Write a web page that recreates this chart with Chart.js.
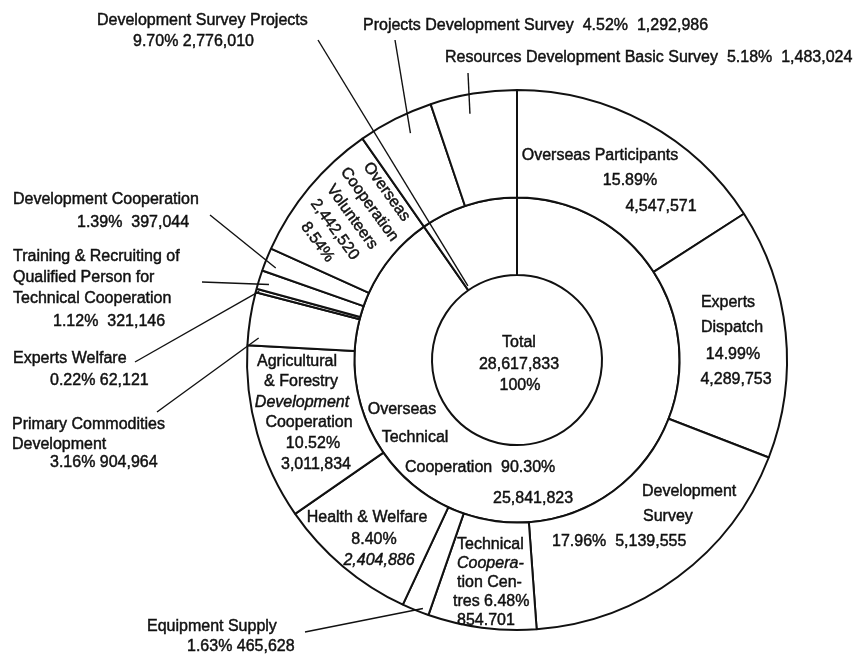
<!DOCTYPE html>
<html lang="en">
<head>
<meta charset="UTF-8">
<title>Overseas Technical Cooperation - breakdown</title>
<script src="https://cdn.jsdelivr.net/npm/chart.js@4"></script>
<style>
  html, body { margin: 0; padding: 0; background: #fff; }
  canvas { display: block; }
</style>
</head>
<body>
<canvas id="chart" width="868" height="655"></canvas>
<script>
// outer ring, clockwise from 12 o'clock
const outerLabels = [
  'Overseas Participants', 'Experts Dispatch', 'Development Survey',
  'Technical Cooperation Centres', 'Equipment Supply', 'Health & Welfare',
  'Agricultural & Forestry Development Cooperation', 'Primary Commodities Development',
  'Experts Welfare', 'Training & Recruiting of Qualified Person for Technical Cooperation',
  'Development Cooperation', 'Overseas Cooperation Volunteers',
  'Projects Development Survey', 'Resources Development Basic Survey'
];
const outerValues = [4547571, 4289753, 5139555, 1854701, 465528, 2404886, 3011834,
  904964, 62121, 321146, 397044, 2442520, 1292986, 1483024];
// inner ring
const innerLabels = ['Overseas Technical Cooperation', 'Development Survey Projects'];
const innerValues = [25841823, 2776010];
const totalValue = 28617833;

const FONT = '"Liberation Sans", Arial, sans-serif';

// text placed on the picture: [text, x, y, align, italic]
const texts = [
  ['Total', 519, 343, 'center'],
  ['28,617,833', 519, 365, 'center'],
  ['100%', 520, 386, 'center'],

  ['Overseas', 402, 410, 'center'],
  ['Technical', 415, 438, 'center'],
  ['Cooperation  90.30%', 405, 468, 'left'],
  ['25,841,823', 493, 499, 'left'],

  ['Overseas Participants', 600, 156, 'center'],
  ['15.89%', 630, 181, 'center'],
  ['4,547,571', 661, 207, 'center'],

  ['Experts', 728, 303, 'center'],
  ['Dispatch', 732, 328, 'center'],
  ['14.99%', 733, 355, 'center'],
  ['4,289,753', 736, 380, 'center'],

  ['Development', 642, 492, 'left'],
  ['Survey', 643, 517, 'left'],
  ['17.96%  5,139,555', 552, 542, 'left'],

  ['Technical', 457, 545, 'left'],
  ['Coopera-', 457, 564, 'left', true],
  ['tion Cen-', 457, 583, 'left'],
  ['tres 6.48%', 453, 602, 'left'],
  ['854.701', 457, 621, 'left'],

  ['Health & Welfare', 367, 518, 'center'],
  ['8.40%', 374, 540, 'center'],
  ['2,404,886', 379, 561, 'center', true],

  ['Agricultural', 297, 362, 'center'],
  ['& Forestry', 301, 382, 'center'],
  ['Development', 302, 403, 'center', true],
  ['Cooperation', 309, 423, 'center'],
  ['10.52%', 313, 444, 'center'],
  ['3,011,834', 316, 465, 'center'],

  ['Development Survey Projects', 97, 21, 'left'],
  ['9.70% 2,776,010', 133, 42, 'left'],
  ['Projects Development Survey  4.52%  1,292,986', 363, 26, 'left'],
  ['Resources Development Basic Survey  5.18%  1,483,024', 445, 58, 'left'],

  ['Development Cooperation', 13, 200, 'left'],
  ['1.39%  397,044', 77, 223, 'left'],
  ['Training & Recruiting of', 13, 257, 'left'],
  ['Qualified Person for', 13, 278, 'left'],
  ['Technical Cooperation', 13, 299, 'left'],
  ['1.12%  321,146', 53, 322, 'left'],
  ['Experts Welfare', 13, 359, 'left'],
  ['0.22% 62,121', 50, 381, 'left'],
  ['Primary Commodities', 12, 425, 'left'],
  ['Development', 12, 445, 'left'],
  ['3.16% 904,964', 50, 463, 'left'],
  ['Equipment Supply', 147, 627, 'left'],
  ['1.63% 465,628', 187, 647, 'left']
];

// rotated label in the volunteers slice
const rotated = { lines: ['Overseas', 'Cooperation', 'Volunteers', '2,442,520', '8.54%'], x: 352, y: 217, angle: 54, lh: 21.4 };

// leader lines: label end (x, y) -> point inside slice i of dataset ds
const leaders = [
  { ds: 1, i: 1, t: 0.04, s: 0.05, x: 318, y: 40 },
  { ds: 0, i: 12, t: 0.6, s: 0.82, x: 395, y: 40 },
  { ds: 0, i: 13, t: 0.42, s: 0.82, x: 468, y: 73 },
  { ds: 0, i: 10, t: 0.3, s: 0.89, x: 210, y: 215 },
  { ds: 0, i: 9, t: 0.4, s: 0.9, x: 202, y: 282 },
  { ds: 0, i: 8, t: 0.5, s: 0.97, x: 135, y: 362 },
  { ds: 0, i: 7, t: 0.15, s: 0.9, x: 157, y: 412 },
  { ds: 0, i: 4, t: 0.27, s: 0.96, x: 305, y: 632 }
];

function drawText(ctx, t, x, y) {
  ctx.fillText(t, x, y);
  ctx.strokeText(t, x, y);
}

const annotate = {
  id: 'annotate',
  afterDatasetsDraw(chart) {
    const ctx = chart.ctx;
    ctx.save();
    ctx.strokeStyle = '#111';
    ctx.lineWidth = 1.4;
    leaders.forEach(l => {
      const arc = chart.getDatasetMeta(l.ds).data[l.i];
      const a = arc.startAngle + l.t * (arc.endAngle - arc.startAngle);
      const r = arc.innerRadius + l.s * (arc.outerRadius - arc.innerRadius);
      ctx.beginPath();
      ctx.moveTo(l.x, l.y);
      ctx.lineTo(arc.x + r * Math.cos(a), arc.y + r * Math.sin(a));
      ctx.stroke();
    });

    ctx.fillStyle = '#111';
    ctx.lineWidth = 0.45;
    ctx.textBaseline = 'middle';
    texts.forEach(([t, x, y, align, italic]) => {
      ctx.font = (italic ? 'italic ' : '') + '16px ' + FONT;
      ctx.textAlign = align;
      drawText(ctx, t, x, y);
    });

    ctx.translate(rotated.x, rotated.y);
    ctx.rotate(rotated.angle * Math.PI / 180);
    ctx.font = '16px ' + FONT;
    ctx.textAlign = 'center';
    const n = rotated.lines.length;
    rotated.lines.forEach((t, k) => {
      drawText(ctx, t, 0, (k - (n - 1) / 2) * rotated.lh);
    });
    ctx.restore();
  }
};

new Chart(document.getElementById('chart'), {
  type: 'doughnut',
  data: {
    labels: outerLabels,
    datasets: [
      { label: 'Breakdown', data: outerValues, backgroundColor: '#fff', borderColor: '#111', borderWidth: 2, weight: 108 },
      { label: 'Main items', data: innerValues, backgroundColor: '#fff', borderColor: '#111', borderWidth: 2, weight: 78 }
    ]
  },
  options: {
    responsive: false,
    animation: false,
    cutout: 85,
    layout: { padding: { top: 89, bottom: 24, left: 246, right: 80 } },
    plugins: { legend: { display: false }, tooltip: { enabled: false } }
  },
  plugins: [annotate]
});
</script>
</body>
</html>
